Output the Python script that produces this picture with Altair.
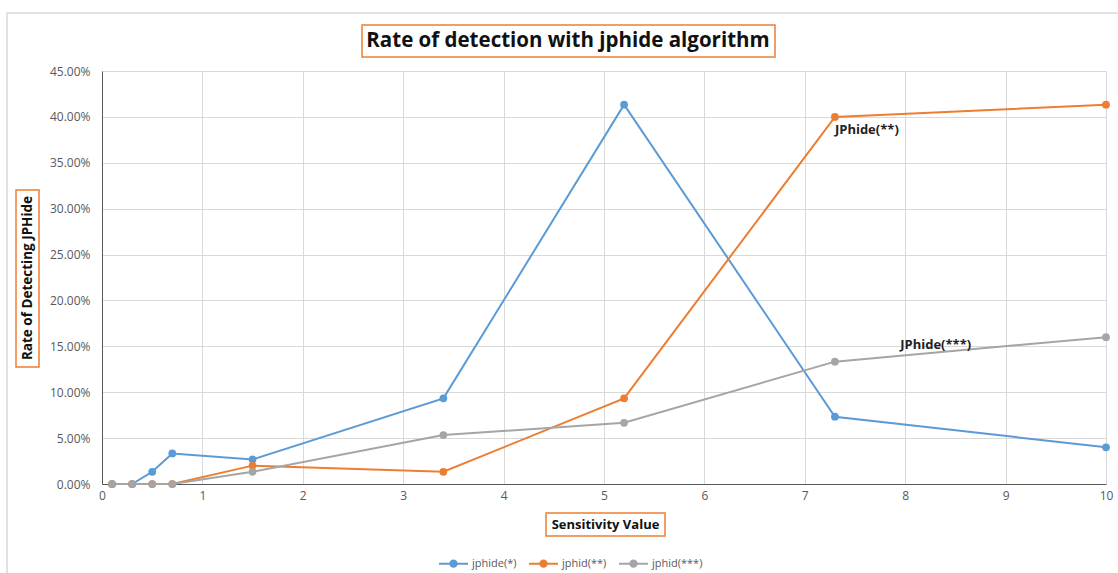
import altair as alt
import pandas as pd

x_vals = [0.1, 0.3, 0.5, 0.7, 1.5, 3.4, 5.2, 7.3, 10]
s1 = [0.0, 0.0, 0.0133, 0.0333, 0.0267, 0.0933, 0.4133, 0.0733, 0.04]
s2 = [0.0, 0.0, 0.0, 0.0, 0.02, 0.0133, 0.0933, 0.40, 0.4133]
s3 = [0.0, 0.0, 0.0, 0.0, 0.0133, 0.0533, 0.0667, 0.1333, 0.16]
series_names = ["jphide(*)", "jphid(**)", "jphid(***)"]
colors = ["#5B9BD5", "#ED7D31", "#A5A5A5"]
x_ticks = list(range(0, 11))
y_ticks = [i * 0.05 for i in range(10)]

ann_text = ["JPhide(**)", "JPhide(***)"]
ann_x = [7.3, 7.95]
ann_y = [0.40, 0.151]

rows = []
for name, vals in zip(series_names, [s1, s2, s3]):
    for xv, yv in zip(x_vals, vals):
        rows.append({"x": xv, "y": yv, "series": name})
df = pd.DataFrame(rows)
dummy = pd.DataFrame({"a": [0]})

FONT = "Open Sans"
W, H = 1004, 413

xscale = alt.Scale(domain=[0, 10], nice=False)
yscale = alt.Scale(domain=[0, 0.45], nice=False)

lines = alt.Chart(df).mark_line(
    strokeWidth=2,
    point=alt.OverlayMarkDef(filled=True, size=60),
).encode(
    x=alt.X("x:Q", scale=xscale,
            axis=alt.Axis(values=x_ticks, format="d", title=None, grid=True,
                          gridColor="#d9d9d9", domainColor="#595959", ticks=False,
                          labelFont=FONT, labelFontSize=12, labelColor="#595959",
                          labelPadding=6, labelFlush=False)),
    y=alt.Y("y:Q", scale=yscale,
            axis=alt.Axis(values=y_ticks, format=".2%", title=None, grid=True,
                          gridColor="#d9d9d9", domainColor="#595959", ticks=False,
                          labelFont=FONT, labelFontSize=12, labelColor="#595959",
                          labelPadding=12, labelFlush=False)),
    color=alt.Color("series:N", sort=series_names,
                    scale=alt.Scale(domain=series_names, range=colors),
                    legend=alt.Legend(orient="none", legendX=336, legendY=477,
                                      direction="horizontal", title=None,
                                      symbolType="M-1,0L1,0M0.22,0A0.22,0.22,0,1,1,-0.22,0A0.22,0.22,0,1,1,0.22,0",
                                      symbolSize=841, symbolStrokeWidth=2,
                                      labelFont=FONT, labelFontSize=11, labelColor="#595959",
                                      columnPadding=8, labelOffset=3)),
    order=alt.Order("x:Q"),
)

def ann_layer(i, dy):
    d = pd.DataFrame({"x": [ann_x[i]], "y": [ann_y[i]], "t": [ann_text[i]]})
    return alt.Chart(d).mark_text(
        font=FONT, fontSize=13, fontWeight="bold", align="left", baseline="middle",
        color="#222222", dy=dy
    ).encode(
        x=alt.X("x:Q", scale=xscale),
        y=alt.Y("y:Q", scale=yscale),
        text="t:N",
    )

def box(x1, x2, y1, y2, stroke="#ED7D31", sw=1.5):
    return alt.Chart(dummy).mark_rect(fill="white", stroke=stroke, strokeWidth=sw).encode(
        x=alt.value(x1), x2=alt.value(x2), y=alt.value(y1), y2=alt.value(y2)
    )

def label(text, x, y, size, angle=0):
    return alt.Chart(dummy).mark_text(
        text=text, font=FONT, fontSize=size, fontWeight="bold", color="#111111",
        align="center", baseline="middle", angle=angle
    ).encode(x=alt.value(x), y=alt.value(y))

outer = alt.Chart(dummy).mark_rect(fill="transparent", stroke="#d9d9d9", strokeWidth=1.5).encode(
    x=alt.value(-95), x2=alt.value(1040), y=alt.value(-58), y2=alt.value(520)
)

title_box = box(260, 673, -46, -14)
title_txt = label("Rate of detection with jphide algorithm", 466, -30, 20.5)
ytitle_box = box(-86, -63, 119, 296)
ytitle_txt = label("Rate of Detecting JPHide", -74.5, 207, 13.5, angle=270)
xtitle_box = box(444, 563, 442, 465)
xtitle_txt = label("Sensitivity Value", 503.5, 453.5, 13)

chart = alt.layer(
    outer, title_box, title_txt, ytitle_box, ytitle_txt, xtitle_box, xtitle_txt,
    lines, ann_layer(0, 13), ann_layer(1, 0)
).properties(
    width=W, height=H,
    autosize=alt.AutoSizeParams(type="none"),
    padding={"left": 102, "top": 71, "right": 12, "bottom": 89},
    background="white",
).configure_view(stroke=None)

chart.save("out.html", embed_options={"renderer": "svg", "actions": False})
